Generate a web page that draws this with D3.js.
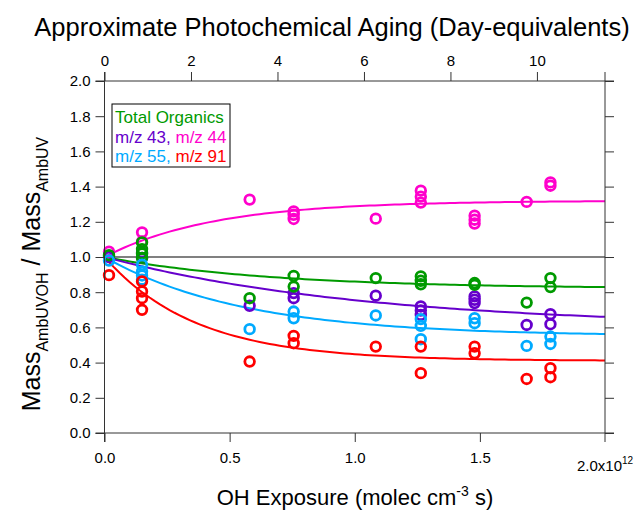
<!DOCTYPE html>
<html>
<head>
<meta charset="utf-8">
<script src="https://cdn.jsdelivr.net/npm/d3@7/dist/d3.min.js"></script>
<style>
  html, body { margin: 0; padding: 0; background: #fff; }
  svg { display: block; font-family: "Liberation Sans", Arial, sans-serif; }
</style>
</head>
<body>
<svg id="chart" width="638" height="513"></svg>
<script>
// OH exposure (molec cm^-3 s) and mass ratio AmbUVOH / AmbUV
const totalOrganics = [
  [0.018e12, 1.01], [0.15e12, 1.083], [0.15e12, 1.045], [0.15e12, 1.02], [0.15e12, 0.995],
  [0.58e12, 0.766], [0.756e12, 0.893], [0.756e12, 0.832], [1.084e12, 0.88],
  [1.264e12, 0.89], [1.264e12, 0.865], [1.264e12, 0.845], [1.479e12, 0.852], [1.479e12, 0.842],
  [1.687e12, 0.741], [1.782e12, 0.88], [1.782e12, 0.829]
];
const mz43 = [
  [0.018e12, 1.0], [0.15e12, 1.026], [0.15e12, 0.995], [0.58e12, 0.723],
  [0.756e12, 0.795], [0.756e12, 0.766], [1.084e12, 0.78],
  [1.264e12, 0.719], [1.264e12, 0.696], [1.264e12, 0.671],
  [1.479e12, 0.776], [1.479e12, 0.757], [1.479e12, 0.738],
  [1.687e12, 0.614], [1.782e12, 0.675], [1.782e12, 0.618]
];
const mz44 = [
  [0.018e12, 1.03], [0.15e12, 1.14], [0.15e12, 1.088], [0.58e12, 1.326],
  [0.756e12, 1.259], [0.756e12, 1.24], [0.756e12, 1.216], [1.084e12, 1.218],
  [1.264e12, 1.377], [1.264e12, 1.343], [1.264e12, 1.309],
  [1.479e12, 1.235], [1.479e12, 1.212], [1.479e12, 1.19],
  [1.687e12, 1.313], [1.782e12, 1.424], [1.782e12, 1.405]
];
const mz55 = [
  [0.018e12, 0.98], [0.15e12, 0.956], [0.15e12, 0.918], [0.15e12, 0.895], [0.15e12, 0.871],
  [0.58e12, 0.59], [0.756e12, 0.69], [0.756e12, 0.652], [1.084e12, 0.668],
  [1.264e12, 0.647], [1.264e12, 0.609], [1.264e12, 0.533],
  [1.479e12, 0.652], [1.479e12, 0.624], [1.687e12, 0.495],
  [1.782e12, 0.548], [1.782e12, 0.506]
];
const mz91 = [
  [0.018e12, 0.897], [0.15e12, 0.861], [0.15e12, 0.804], [0.15e12, 0.766], [0.15e12, 0.70],
  [0.58e12, 0.406], [0.756e12, 0.552], [0.756e12, 0.51], [1.084e12, 0.491],
  [1.264e12, 0.491], [1.264e12, 0.34], [1.479e12, 0.491], [1.479e12, 0.453],
  [1.687e12, 0.307], [1.782e12, 0.368], [1.782e12, 0.317]
];

// Exponential fits: ratio = plateau + (1 - plateau) * exp(-rate * exposure / 1e12)
const fitNames = ["mz44", "totalOrganics", "mz43", "mz55", "mz91"];
const fitPlateau = [1.32, 0.82, 0.6, 0.55, 0.41];
const fitRate = [2.3, 1.5, 0.95, 1.8, 2.75];

const exposureTicks = [0, 0.5e12, 1.0e12, 1.5e12, 2.0e12];
const dayTicks = [0, 2, 4, 6, 8, 10];
const ratioTicks = [0, 0.2, 0.4, 0.6, 0.8, 1.0, 1.2, 1.4, 1.6, 1.8, 2.0];
const ohPerDay = 2e6 * 86400; // 2e6 molec cm^-3 for one day

const colors = {
  totalOrganics: "#009a00",
  mz43: "#6600cc",
  mz44: "#ff00cc",
  mz55: "#00aaff",
  mz91: "#ff0000"
};
const seriesData = { totalOrganics, mz43, mz44, mz55, mz91 };
const drawOrder = ["mz44", "mz43", "totalOrganics", "mz55", "mz91"];

const svg = d3.select("#chart");
const L = 104.5, R = 605, T = 81, B = 433;
const ext = 9;
const axisColor = "#333";

const x = d3.scaleLinear().domain([0, 2e12]).range([L, R]);
const xDays = d3.scaleLinear().domain([0, 2e12 / ohPerDay]).range([L, R]);
const y = d3.scaleLinear().domain([0, 2]).range([B, T]);

// reference line at ratio 1
svg.append("line")
  .attr("x1", L).attr("x2", R)
  .attr("y1", y(1)).attr("y2", y(1))
  .attr("stroke", "#808080").attr("stroke-width", 2);

// fit curves
const fitX = d3.range(0, 2.0001e12, 0.02e12);
const line = d3.line().x(d => x(d[0])).y(d => y(d[1]));
fitNames.forEach((name, i) => {
  const pts = fitX.map(v => [v, fitPlateau[i] + (1 - fitPlateau[i]) * Math.exp(-fitRate[i] * v / 1e12)]);
  svg.append("path")
    .attr("d", line(pts))
    .attr("fill", "none")
    .attr("stroke", colors[name])
    .attr("stroke-width", 2);
});

// markers
drawOrder.forEach(name => {
  svg.append("g").selectAll("circle")
    .data(seriesData[name])
    .join("circle")
    .attr("cx", d => x(d[0]))
    .attr("cy", d => y(d[1]))
    .attr("r", 4.8)
    .attr("fill", "none")
    .attr("stroke", colors[name])
    .attr("stroke-width", 2.8);
});

// axes
function styleAxis(g) {
  g.select(".domain").remove();
  g.selectAll(".tick line").attr("stroke", axisColor);
  g.selectAll(".tick text").attr("fill", "#000").style("font-size", "15px")
    .style("font-family", '"Liberation Sans", Arial, sans-serif');
}

svg.append("g").attr("transform", `translate(${L},0)`)
  .call(d3.axisLeft(y).tickValues(ratioTicks).tickFormat(d3.format(".1f")).tickSize(ext).tickPadding(5))
  .call(styleAxis);

svg.append("g").attr("transform", `translate(${R},0)`)
  .call(d3.axisRight(y).tickValues(ratioTicks).tickFormat("").tickSize(ext))
  .call(styleAxis);

svg.append("g").attr("transform", `translate(0,${B})`)
  .call(d3.axisBottom(x).tickValues(exposureTicks.slice(0, -1)).tickFormat(d => d3.format(".1f")(d / 1e12)).tickSize(ext).tickPadding(10))
  .call(styleAxis);

svg.append("g").attr("transform", `translate(0,${T})`)
  .call(d3.axisTop(xDays).tickValues(dayTicks).tickSize(ext).tickPadding(6))
  .call(styleAxis);

// last exposure label with exponent
const lastTick = exposureTicks[exposureTicks.length - 1];
const lastLabel = svg.append("text")
  .attr("x", x(lastTick) - 28).attr("y", 471)
  .style("font-size", "15px");
lastLabel.append("tspan").text(d3.format(".1f")(lastTick / 1e12) + "x10");
lastLabel.append("tspan").attr("dy", -7).style("font-size", "10px").text("12");

// frame lines extending past the corners
const frame = svg.append("g").attr("stroke", axisColor).attr("stroke-width", 1);
frame.append("line").attr("x1", L).attr("x2", L).attr("y1", T - ext).attr("y2", B + ext);
frame.append("line").attr("x1", R).attr("x2", R).attr("y1", T - ext).attr("y2", B + ext);
frame.append("line").attr("x1", L - ext).attr("x2", R + ext).attr("y1", T).attr("y2", T);
frame.append("line").attr("x1", L - ext).attr("x2", R + ext).attr("y1", B).attr("y2", B);

// titles
svg.append("text")
  .attr("x", 332).attr("y", 36)
  .attr("text-anchor", "middle")
  .style("font-size", "25.5px")
  .text("Approximate Photochemical Aging (Day-equivalents)");

const xt = svg.append("text")
  .attr("x", 355).attr("y", 505)
  .attr("text-anchor", "middle")
  .style("font-size", "22px");
xt.append("tspan").text("OH Exposure (molec cm");
xt.append("tspan").attr("dy", -9).style("font-size", "14px").text("-3");
xt.append("tspan").attr("dy", 9).text(" s)");

const yt = svg.append("text")
  .attr("transform", "translate(40,274) rotate(-90)")
  .attr("text-anchor", "middle")
  .style("font-size", "25px");
yt.append("tspan").text("Mass");
yt.append("tspan").attr("dy", 8).style("font-size", "16px").text("AmbUVOH");
yt.append("tspan").attr("dy", -8).text(" / Mass");
yt.append("tspan").attr("dy", 8).style("font-size", "16px").text("AmbUV");

// legend
const lg = svg.append("g");
lg.append("rect")
  .attr("x", 112).attr("y", 104).attr("width", 118).attr("height", 63)
  .attr("fill", "#fff").attr("stroke", "#000").attr("stroke-width", 1);
const legendRows = [
  [["Total Organics", "totalOrganics"]],
  [["m/z 43", "mz43"], [", ", "mz43"], ["m/z 44", "mz44"]],
  [["m/z 55", "mz55"], [", ", "mz55"], ["m/z 91", "mz91"]]
];
legendRows.forEach((row, i) => {
  const t = lg.append("text").attr("x", 115).attr("y", 123 + i * 19.5).style("font-size", "17px");
  row.forEach(([s, k]) => t.append("tspan").attr("fill", colors[k]).text(s));
});
</script>
</body>
</html>
